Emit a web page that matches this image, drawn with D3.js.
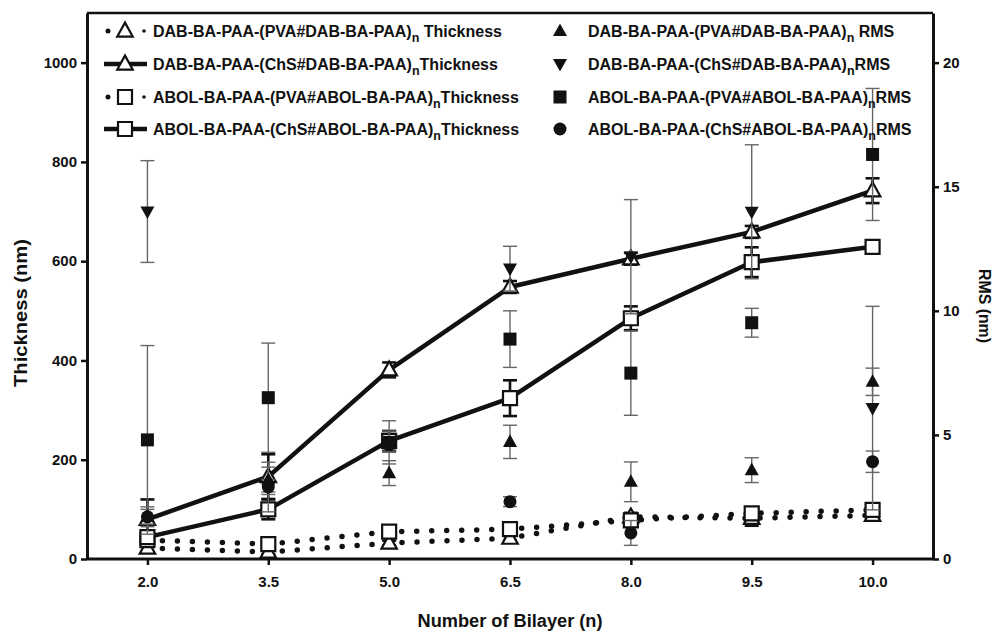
<!DOCTYPE html>
<html>
<head>
<meta charset="utf-8">
<script src="https://cdn.jsdelivr.net/npm/d3@7"></script>
<style>
  html, body { margin: 0; padding: 0; background: #fff; }
  svg text { font-family: "Liberation Sans", Arial, Helvetica, sans-serif; font-weight: bold; fill: #111; }
</style>
</head>
<body>
<svg id="chart" width="996" height="634"></svg>
<script>
// Bilayer counts (categorical x positions)
const xLabels = ["2.0", "3.5", "5.0", "6.5", "8.0", "9.5", "10.0"];

// Film thickness (nm) with standard deviation
const dabPvaThick    = [22, 14, 32, 42, 85, 82, 88];
const dabPvaThickErr = [8, 5, 5, 5, 8, 15, 8];
const dabChsThick    = [80, 166, 381, 548, 605, 659, 742];
const dabChsThickErr = [40, 45, 15, 12, 12, 12, 25];
const abolPvaThick    = [38, 30, 55, 60, 78, 92, 99];
const abolPvaThickErr = [6, 6, 6, 6, 6, 6, 6];
const abolChsThick    = [44, 100, 238, 324, 485, 598, 629];
const abolChsThickErr = [10, 20, 20, 36, 24, 30, 12];

// Surface roughness RMS (nm) with standard deviation
const dabPvaRms    = [1.7, 3.2, 3.46, 4.72, 3.11, 3.58, 7.14];
const dabPvaRmsErr = [0.4, 0.5, 0.5, 0.67, 0.8, 0.5, 0.55];
const dabChsRms    = [14.0, 2.9, 4.75, 11.7, 12.18, 13.99, 6.08];
const dabChsRmsErr = [2.05, 1.0, 0.4, 0.9, 2.3, 2.7, 4.1];
const abolPvaRms    = [4.8, 6.5, 4.7, 8.86, 7.49, 9.52, 16.3];
const abolPvaRmsErr = [3.8, 2.2, 0.87, 1.14, 1.7, 0.58, 2.66];
const abolChsRms    = [1.7, 2.9, 4.6, 2.31, 1.05, null, 3.92];
const abolChsRmsErr = [0.3, 0.3, 0.3, 0.2, 0.5, null, 0.43];

// Axis ticks
const thickTicks = [0, 200, 400, 600, 800, 1000];
const rmsTicks = [0, 5, 10, 15, 20];

const svg = d3.select("#chart");
const L = 87, R = 933, T = 13, B = 559;

const x = d3.scalePoint().domain(xLabels).range([L, R]).padding(0.5);
const yT = d3.scaleLinear().domain([0, 1100]).range([B, T]);
const yR = d3.scaleLinear().domain([0, 22]).range([B, T]);

// marker shapes
function markerPath(type, s) {
  switch (type) {
    case "triUp": {
      const h = s * 0.9;
      return `M0,${-h * 0.6}L${s / 2},${h * 0.4}L${-s / 2},${h * 0.4}Z`;
    }
    case "triDown": {
      const h = s * 0.9;
      return `M0,${h * 0.6}L${s / 2},${-h * 0.4}L${-s / 2},${-h * 0.4}Z`;
    }
    case "square":
      return `M${-s / 2},${-s / 2}h${s}v${s}h${-s}Z`;
    case "circle":
      return d3.arc()({ innerRadius: 0, outerRadius: s / 2, startAngle: 0, endAngle: 2 * Math.PI });
  }
}

function drawMarker(g, type, open, cx, cy) {
  if (open) {
    g.append("path")
      .attr("d", markerPath(type, type === "square" ? 14 : 15.5))
      .attr("transform", `translate(${cx},${cy})`)
      .attr("fill", "#fff").attr("stroke", "#111").attr("stroke-width", 2.2)
      .attr("stroke-linejoin", "miter");
  } else {
    g.append("path")
      .attr("d", markerPath(type, type === "circle" ? 13 : (type === "square" ? 13 : 14)))
      .attr("transform", `translate(${cx},${cy})`)
      .attr("fill", "#111");
  }
}

function errorBars(g, vals, errs, scale, style) {
  vals.forEach((v, i) => {
    if (v == null) return;
    const cx = x(xLabels[i]);
    const y1 = scale(v + errs[i]), y2 = scale(Math.max(0, v - errs[i]));
    g.append("line").attr("x1", cx).attr("x2", cx).attr("y1", y1).attr("y2", y2)
      .attr("stroke", style.color).attr("stroke-width", style.w);
    [y1, y2].forEach(yy => {
      g.append("line").attr("x1", cx - 7).attr("x2", cx + 7).attr("y1", yy).attr("y2", yy)
        .attr("stroke", style.color).attr("stroke-width", style.w);
    });
  });
}

const thickSeries = [
  { vals: dabPvaThick, errs: dabPvaThickErr, type: "triUp", dotted: true },
  { vals: abolPvaThick, errs: abolPvaThickErr, type: "square", dotted: true },
  { vals: dabChsThick, errs: dabChsThickErr, type: "triUp", dotted: false },
  { vals: abolChsThick, errs: abolChsThickErr, type: "square", dotted: false }
];
const rmsSeries = [
  { vals: dabPvaRms, errs: dabPvaRmsErr, type: "triUp" },
  { vals: dabChsRms, errs: dabChsRmsErr, type: "triDown" },
  { vals: abolPvaRms, errs: abolPvaRmsErr, type: "square" },
  { vals: abolChsRms, errs: abolChsRmsErr, type: "circle" }
];

const line = d3.line().x((d, i) => x(xLabels[i])).y(d => yT(d));

function styleLine(sel, dotted) {
  if (dotted) {
    sel.attr("stroke", "#111").attr("stroke-width", 5.5).attr("fill", "none")
      .attr("stroke-linecap", "round").attr("stroke-dasharray", "0 15");
  } else {
    sel.attr("stroke", "#111").attr("stroke-width", 4.5).attr("fill", "none")
      .attr("stroke-linejoin", "round");
  }
}

// connecting lines for thickness series
const gLines = svg.append("g");
thickSeries.forEach(s => {
  styleLine(gLines.append("path").attr("d", line(s.vals)), s.dotted);
});

// thickness error bars and open markers
const gThick = svg.append("g");
thickSeries.forEach(s => errorBars(gThick, s.vals, s.errs, yT, { color: "#111", w: 2.6 }));
thickSeries.forEach(s => s.vals.forEach((v, i) => drawMarker(gThick, s.type, true, x(xLabels[i]), yT(v))));

// RMS error bars and filled markers
const gRms = svg.append("g");
rmsSeries.forEach(s => errorBars(gRms, s.vals, s.errs, yR, { color: "#666", w: 1.4 }));
rmsSeries.forEach(s => s.vals.forEach((v, i) => {
  if (v != null) drawMarker(gRms, s.type, false, x(xLabels[i]), yR(v));
}));

// frame
svg.append("line").attr("x1", L).attr("x2", R).attr("y1", T).attr("y2", T)
  .attr("stroke", "#111").attr("stroke-width", 2.5);

// axes
function styleAxis(g) {
  g.selectAll(".domain").attr("stroke", "#111").attr("stroke-width", 3);
  g.selectAll(".tick line").attr("stroke", "#111").attr("stroke-width", 2.5);
  g.selectAll(".tick text").attr("font-size", 15).attr("font-weight", "bold")
    .attr("font-family", "'Liberation Sans', Arial, sans-serif").attr("fill", "#111");
}
const axL = svg.append("g").attr("transform", `translate(${L},0)`)
  .call(d3.axisLeft(yT).tickValues(thickTicks).tickFormat(d3.format("d"))
    .tickSize(6).tickSizeOuter(0).tickPadding(4));
styleAxis(axL);
const axR = svg.append("g").attr("transform", `translate(${R},0)`)
  .call(d3.axisRight(yR).tickValues(rmsTicks).tickFormat(d3.format("d"))
    .tickSize(6).tickSizeOuter(0).tickPadding(4));
styleAxis(axR);
const axB = svg.append("g").attr("transform", `translate(0,${B})`)
  .call(d3.axisBottom(x).tickSize(6).tickSizeOuter(0).tickPadding(11));
axB.select(".domain").attr("d", `M${L},0H${R}`);
styleAxis(axB);

// axis titles
svg.append("text").attr("transform", "translate(27,313) rotate(-90)")
  .attr("text-anchor", "middle").attr("font-size", 18)
  .attr("textLength", 148).attr("lengthAdjust", "spacingAndGlyphs").text("Thickness (nm)");
svg.append("text").attr("transform", "translate(979,306) rotate(90)")
  .attr("text-anchor", "middle").attr("font-size", 17)
  .attr("textLength", 74).attr("lengthAdjust", "spacingAndGlyphs").text("RMS (nm)");
svg.append("text").attr("x", 510).attr("y", 627)
  .attr("text-anchor", "middle").attr("font-size", 18)
  .attr("textLength", 185).attr("lengthAdjust", "spacingAndGlyphs").text("Number of Bilayer (n)");

// legend
const legendThick = [
  { pre: "DAB-BA-PAA-(PVA#DAB-BA-PAA)", post: " Thickness", type: "triUp", dotted: true },
  { pre: "DAB-BA-PAA-(ChS#DAB-BA-PAA)", post: "Thickness", type: "triUp", dotted: false },
  { pre: "ABOL-BA-PAA-(PVA#ABOL-BA-PAA)", post: "Thickness", type: "square", dotted: true },
  { pre: "ABOL-BA-PAA-(ChS#ABOL-BA-PAA)", post: "Thickness", type: "square", dotted: false }
];
const legendRms = [
  { pre: "DAB-BA-PAA-(PVA#DAB-BA-PAA)", post: " RMS", type: "triUp" },
  { pre: "DAB-BA-PAA-(ChS#DAB-BA-PAA)", post: "RMS", type: "triDown" },
  { pre: "ABOL-BA-PAA-(PVA#ABOL-BA-PAA)", post: "RMS", type: "square" },
  { pre: "ABOL-BA-PAA-(ChS#ABOL-BA-PAA)", post: "RMS", type: "circle" }
];
const rowsY = [31, 64, 97, 129];
const gLeg = svg.append("g");

function legendText(tx, ty, item) {
  const t = gLeg.append("text").attr("x", tx).attr("y", ty + 5.5).attr("font-size", 16);
  t.append("tspan").text(item.pre);
  t.append("tspan").attr("font-size", 12.5).attr("dy", 5).text("n");
  t.append("tspan").attr("dy", -5).text(item.post);
}

legendThick.forEach((item, i) => {
  const ly = rowsY[i];
  if (item.dotted) {
    gLeg.append("line").attr("x1", 108).attr("x2", 144).attr("y1", ly).attr("y2", ly)
      .attr("stroke", "#111").attr("stroke-width", 5).attr("stroke-linecap", "round")
      .attr("stroke-dasharray", "0 36");
    gLeg.append("circle").attr("cx", 144).attr("cy", ly).attr("r", 1.8).attr("fill", "#111");
  } else {
    gLeg.append("line").attr("x1", 104).attr("x2", 147).attr("y1", ly).attr("y2", ly)
      .attr("stroke", "#111").attr("stroke-width", 4.5);
  }
  drawMarker(gLeg, item.type, true, 125, ly);
  legendText(153, ly, item);
});
legendRms.forEach((item, i) => {
  const ly = rowsY[i];
  drawMarker(gLeg, item.type, false, 560, ly);
  legendText(588, ly, item);
});
</script>
</body>
</html>
